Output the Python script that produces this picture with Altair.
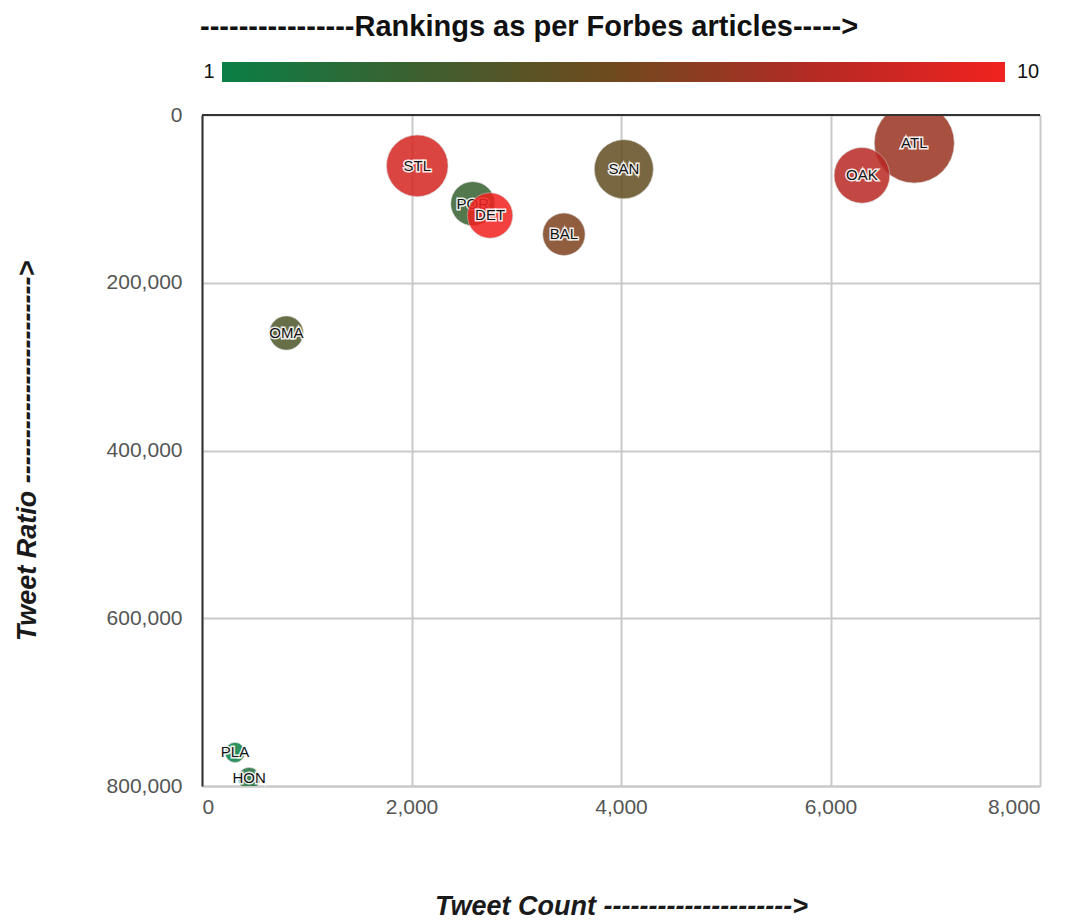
import altair as alt
import pandas as pd

# ---- data ----
city = ["ATL", "OAK", "STL", "POR", "DET", "BAL", "SAN", "OMA", "PLA", "HON"]
tweet_count = [6800, 6300, 2055, 2585, 2750, 3455, 4027, 805, 315, 450]
tweet_ratio = [33500, 72000, 60600, 105700, 119800, 142200, 64600, 260000, 760000, 791000]
forbes_rank = [7, 8, 9, 3, 10, 6, 5, 4, 1, 2]
bubble_size = [1600, 773, 949, 484, 515, 449, 870, 289, 100, 121]

x_ticks = [0, 2000, 4000, 6000, 8000]
y_ticks = [0, 200000, 400000, 600000, 800000]
rank_domain = [1, 3.25, 5.5, 7.75, 10]
rank_colors = ["#0a7f45", "#3d5f30", "#6f4a1e", "#b32a25", "#f1221f"]
legend_labels = ["1", "10"]

df = pd.DataFrame({
    "city": city,
    "tweet_count": tweet_count,
    "tweet_ratio": tweet_ratio,
    "rank": forbes_rank,
    "bubble": bubble_size,
})

FONT = "Liberation Sans"

x_scale = alt.Scale(domain=[0, 8000], nice=False, zero=True)
y_scale = alt.Scale(domain=[0, 800000], reverse=True, nice=False)
size_scale = alt.Scale(domain=[0, 1600], range=[0, 6400])
color_scale = alt.Scale(domain=rank_domain, range=rank_colors, interpolate="rgb")

x_axis = alt.Axis(
    values=x_ticks, format=",d",
    title="Tweet Count ---------------------> ",
    titleFontSize=27, titleFontWeight="bold", titleFontStyle="italic",
    titleColor="#1a1a1a", titlePadding=76, titleFont=FONT,
    labelFontSize=21, labelColor="#555555", labelPadding=10, labelFont=FONT,
    ticks=False, grid=True, gridColor="#c9c9c9", gridWidth=2,
    domainColor="#c9c9c9", domainWidth=2,
)
y_axis = alt.Axis(
    values=y_ticks, format=",d",
    title="Tweet Ratio -----------------------> ",
    titleFontSize=27, titleFontWeight="bold", titleFontStyle="italic",
    titleColor="#1a1a1a", titlePadding=65, titleFont=FONT,
    labelFontSize=21, labelColor="#555555", labelPadding=20, labelFont=FONT,
    ticks=False, grid=True, gridColor="#c9c9c9", gridWidth=2,
    domainColor="#333333", domainWidth=2,
)

legend = alt.Legend(
    orient="none", legendX=20, legendY=-53, direction="horizontal",
    gradientLength=783, gradientThickness=20, labelOpacity=0, labelFontSize=1,
    title=None, gradientStrokeWidth=0, gradientOpacity=1,
)

base = alt.Chart(df)


def circles(data_filter, first):
    return base.transform_filter(data_filter).mark_circle(
        opacity=0.86, stroke="#cccccc", strokeWidth=1, strokeOpacity=0.6, clip=True
    ).encode(
        x=alt.X("tweet_count:Q", scale=x_scale, axis=x_axis) if first
        else alt.X("tweet_count:Q", scale=x_scale),
        y=alt.Y("tweet_ratio:Q", scale=y_scale, axis=y_axis) if first
        else alt.Y("tweet_ratio:Q", scale=y_scale),
        size=alt.Size("bubble:Q", scale=size_scale, legend=None),
        color=alt.Color("rank:Q", scale=color_scale, legend=legend),
    )


def labels(data_filter):
    enc = dict(
        x=alt.X("tweet_count:Q", scale=x_scale),
        y=alt.Y("tweet_ratio:Q", scale=y_scale),
        text="city:N",
    )
    halo = base.transform_filter(data_filter).mark_text(
        font=FONT, fontSize=15, stroke="white", strokeWidth=3, strokeOpacity=0.9,
        fill="white", baseline="middle", align="center"
    ).encode(**enc)
    txt = base.transform_filter(data_filter).mark_text(
        font=FONT, fontSize=15, color="#111111", baseline="middle", align="center"
    ).encode(**enc)
    return halo, txt


rest = alt.datum.city != "DET"
det = alt.datum.city == "DET"

c_rest = circles(rest, True)
h_rest, t_rest = labels(rest)
c_det = circles(det, False)
h_det, t_det = labels(det)

# dark top frame line of the plot area
top_frame = alt.Chart(alt.Data(values=[{}])).mark_rule(
    color="#333333", strokeWidth=2
).encode(x=alt.value(0), x2=alt.value(838), y=alt.value(0))

lab_lo = alt.Chart(alt.Data(values=[{"t": legend_labels[0]}])).mark_text(
    font=FONT, fontSize=20, color="#111111", align="center", baseline="middle"
).encode(x=alt.value(7), y=alt.value(-43), text="t:N")
lab_hi = alt.Chart(alt.Data(values=[{"t": legend_labels[1]}])).mark_text(
    font=FONT, fontSize=20, color="#111111", align="center", baseline="middle"
).encode(x=alt.value(826), y=alt.value(-43), text="t:N")

chart = alt.layer(
    c_rest, h_rest, t_rest, c_det, h_det, t_det, top_frame, lab_lo, lab_hi
).properties(
    width=838, height=671,
    title=alt.TitleParams(
        "----------------Rankings as per Forbes articles----->",
        fontSize=29, fontWeight="bold", font=FONT, color="#111111",
        anchor="start", frame="group", dx=-2, offset=20,
    ),
).configure_view(
    fill="#e7e8e8", stroke="#c9c9c9", strokeWidth=2
).configure(background="white")

chart.save("out.html", embed_options={"renderer": "svg", "actions": False})
